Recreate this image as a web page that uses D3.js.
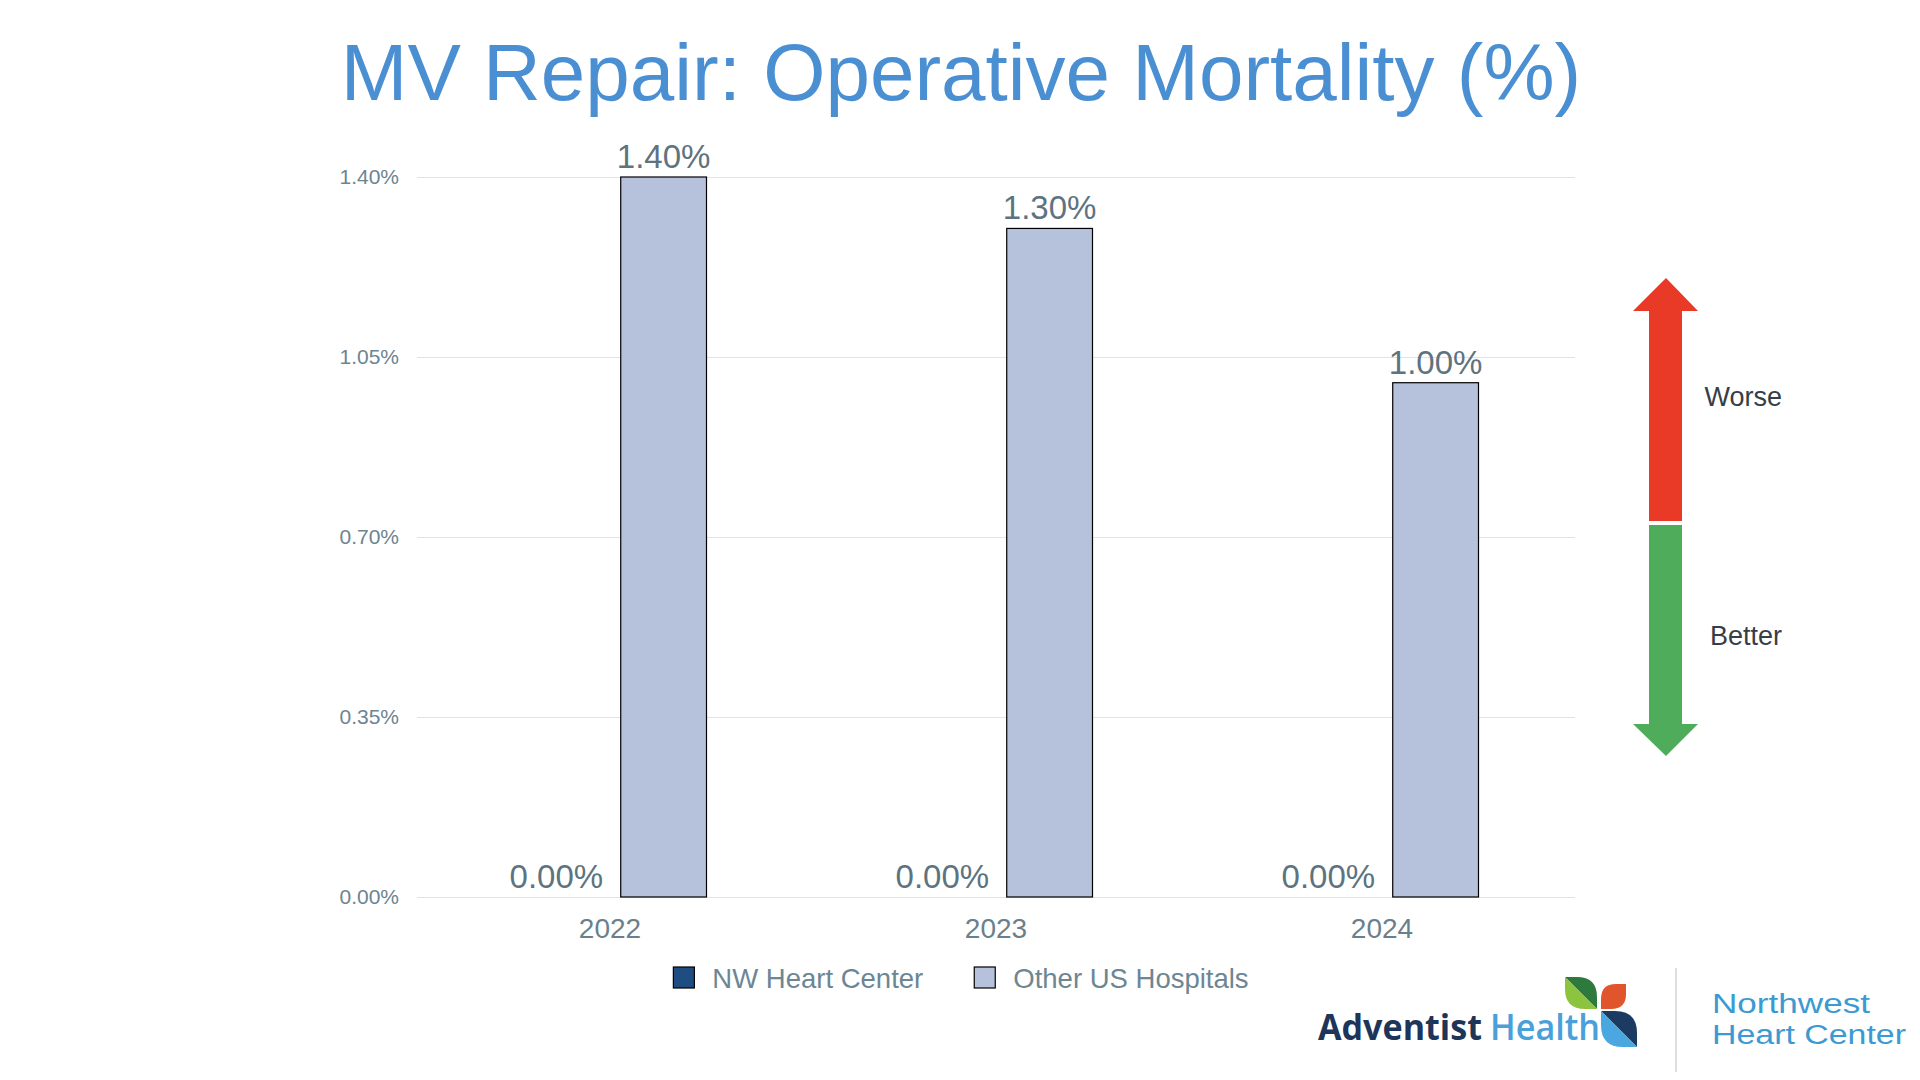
<!DOCTYPE html>
<html>
<head>
<meta charset="utf-8">
<script src="https://cdn.jsdelivr.net/npm/d3@7"></script>
<style>
  body { margin: 0; background: #fff; }
  svg { display: block; font-family: 'Liberation Sans', Arial, Helvetica, sans-serif; }
</style>
</head>
<body>
<svg id="chart" width="1920" height="1080"></svg>
<script>
// Chart data
const years = ['2022', '2023', '2024'];
const seriesNames = ['NW Heart Center', 'Other US Hospitals'];
const nwHeartCenter = [0.00, 0.00, 0.00];
const otherUSHospitals = [1.40, 1.30, 1.00];
const yTicks = [0, 0.35, 0.70, 1.05, 1.40];
const seriesColors = ['#1f4d82', '#b6c1db'];

const svg = d3.select('#chart');

// Plot area
const margin = {left: 417, right: 345, top: 177, bottom: 183};
const width = 1920 - margin.left - margin.right;
const height = 1080 - margin.top - margin.bottom;

const chart = svg.append('g')
    .attr('transform', `translate(${margin.left},${margin.top})`);

const xScale = d3.scaleBand()
    .domain(years)
    .range([0, width])
    .padding(0);

const xSub = d3.scaleBand()
    .domain(seriesNames)
    .range([0, xScale.bandwidth()])
    .paddingInner(0.2)
    .paddingOuter(0.9);

const yScale = d3.scaleLinear()
    .domain([0, 1.4])
    .range([height, 0]);

const fmt = d => d.toFixed(2) + '%';

// Gridlines + y labels
const yAxis = d3.axisLeft(yScale)
    .tickValues(yTicks)
    .tickSize(-width)
    .tickPadding(18)
    .tickFormat(fmt);

chart.append('g')
    .attr('class', 'y-axis')
    .call(yAxis)
    .call(g => g.select('.domain').remove())
    .call(g => g.selectAll('.tick line').attr('stroke', '#e3e3e3').attr('stroke-width', 1.2))
    .call(g => g.selectAll('.tick text')
        .attr('fill', '#6d8491')
        .style('font-size', '21px')
        .style('font-family', "'Liberation Sans', Arial, sans-serif"));

// X labels
const xAxis = d3.axisBottom(xScale)
    .tickSize(0)
    .tickPadding(21);

chart.append('g')
    .attr('class', 'x-axis')
    .attr('transform', `translate(0,${height})`)
    .call(xAxis)
    .call(g => g.select('.domain').remove())
    .call(g => g.selectAll('.tick text')
        .attr('fill', '#6a808d')
        .style('font-size', '28px')
        .style('font-family', "'Liberation Sans', Arial, sans-serif"));

// Bars
const rows = [];
years.forEach((yr, i) => {
  rows.push({year: yr, series: seriesNames[0], value: nwHeartCenter[i], color: seriesColors[0]});
  rows.push({year: yr, series: seriesNames[1], value: otherUSHospitals[i], color: seriesColors[1]});
});

chart.selectAll('.bar')
    .data(rows)
  .join('rect')
    .attr('class', 'bar')
    .attr('x', d => xScale(d.year) + xSub(d.series))
    .attr('width', xSub.bandwidth())
    .attr('y', d => yScale(d.value))
    .attr('height', d => height - yScale(d.value))
    .attr('fill', d => d.color)
    .attr('stroke', d => d.value > 0 ? '#000' : 'none')
    .attr('stroke-width', 1.2);

chart.selectAll('.bar-label')
    .data(rows)
  .join('text')
    .attr('class', 'bar-label')
    .attr('x', d => xScale(d.year) + xSub(d.series) + xSub.bandwidth() / 2)
    .attr('y', d => yScale(d.value) - 9)
    .attr('text-anchor', 'middle')
    .attr('fill', '#5e7380')
    .style('font-size', '33px')
    .text(d => fmt(d.value));

// Title
svg.append('text')
    .attr('x', 961)
    .attr('y', 100)
    .attr('text-anchor', 'middle')
    .attr('fill', '#4b8fd3')
    .style('font-size', '80px')
    .text('MV Repair: Operative Mortality (%)');

// Legend
const legend = svg.append('g').attr('transform', 'translate(0,978)');
let lx = 0;
const items = legend.selectAll('.legend-item')
    .data(seriesNames)
  .join('g')
    .attr('class', 'legend-item');
items.append('rect')
    .attr('width', 21).attr('height', 21)
    .attr('y', -11)
    .attr('fill', (d, i) => seriesColors[i])
    .attr('stroke', '#000')
    .attr('stroke-width', 1.2);
items.append('text')
    .attr('x', 39)
    .attr('y', 10)
    .attr('fill', '#6d8694')
    .style('font-size', '27.5px')
    .text(d => d);
items.each(function() {
  const g = d3.select(this);
  g.attr('transform', `translate(${lx},0)`);
  lx += 39 + g.select('text').node().getComputedTextLength() + 51;
});
const legendW = lx - 51;
legend.attr('transform', `translate(${961 - legendW / 2},978)`);

// Worse / Better arrow
const arrow = svg.append('g');
arrow.append('path')
    .attr('d', 'M1666,278 L1698,311 L1682,311 L1682,521 L1649,521 L1649,311 L1633,311 Z')
    .attr('fill', '#e83a26');
arrow.append('path')
    .attr('d', 'M1649,525 L1682,525 L1682,724 L1698,724 L1666,756 L1633,724 L1649,724 Z')
    .attr('fill', '#4fac5b');
arrow.append('text')
    .attr('x', 1782).attr('y', 406)
    .attr('text-anchor', 'end')
    .attr('fill', '#363e47')
    .style('font-size', '27px')
    .text('Worse');
arrow.append('text')
    .attr('x', 1782).attr('y', 645)
    .attr('text-anchor', 'end')
    .attr('fill', '#363e47')
    .style('font-size', '27px')
    .text('Better');

// Logo
const logo = svg.append('g').style('font-family', "'Open Sans', 'Noto Sans', sans-serif");
logo.append('text')
    .attr('x', 1318).attr('y', 1040)
    .attr('fill', '#1d3559')
    .attr('font-weight', 700)
    .attr('textLength', 164).attr('lengthAdjust', 'spacingAndGlyphs')
    .style('font-size', '36px')
    .text('Adventist');
logo.append('text')
    .attr('x', 1490).attr('y', 1040)
    .attr('fill', '#4aa0da')
    .attr('font-weight', 600)
    .attr('textLength', 110).attr('lengthAdjust', 'spacingAndGlyphs')
    .style('font-size', '36px')
    .text('Health');

function leafHalves(x0, y0, s, r) {
  return [
    `M${x0},${y0} L${x0 + s - r},${y0} Q${x0 + s},${y0} ${x0 + s},${y0 + r} L${x0 + s},${y0 + s} Z`,
    `M${x0},${y0} L${x0 + s},${y0 + s} L${x0 + r},${y0 + s} Q${x0},${y0 + s} ${x0},${y0 + s - r} Z`
  ];
}
const tl = leafHalves(1565, 977, 32, 20);
logo.append('path').attr('d', tl[0]).attr('fill', '#2e7a3c');
logo.append('path').attr('d', tl[1]).attr('fill', '#8cc43f');
const br = leafHalves(1601, 1011, 36, 22);
logo.append('path').attr('d', br[0]).attr('fill', '#1b3b63');
logo.append('path').attr('d', br[1]).attr('fill', '#4aa7df');
// orange leaf (top-right)
const ox = 1601, oy = 984, os = 25, orr = 15;
logo.append('path')
    .attr('d', `M${ox},${oy + os} L${ox},${oy + orr} Q${ox},${oy} ${ox + orr},${oy} L${ox + os},${oy} L${ox + os},${oy + os - orr} Q${ox + os},${oy + os} ${ox + os - orr},${oy + os} Z`)
    .attr('fill', '#e0552b');

logo.append('line')
    .attr('x1', 1676).attr('x2', 1676)
    .attr('y1', 968).attr('y2', 1072)
    .attr('stroke', '#dedede').attr('stroke-width', 2);
logo.append('text')
    .attr('x', 1712).attr('y', 1013)
    .attr('fill', '#3c9ad3')
    .style('font-family', "'Liberation Sans', Arial, sans-serif")
    .style('font-size', '27px')
    .attr('textLength', 158).attr('lengthAdjust', 'spacingAndGlyphs')
    .text('Northwest');
logo.append('text')
    .attr('x', 1712).attr('y', 1044)
    .attr('fill', '#3c9ad3')
    .style('font-family', "'Liberation Sans', Arial, sans-serif")
    .style('font-size', '27px')
    .attr('textLength', 194).attr('lengthAdjust', 'spacingAndGlyphs')
    .text('Heart Center');
</script>
</body>
</html>
